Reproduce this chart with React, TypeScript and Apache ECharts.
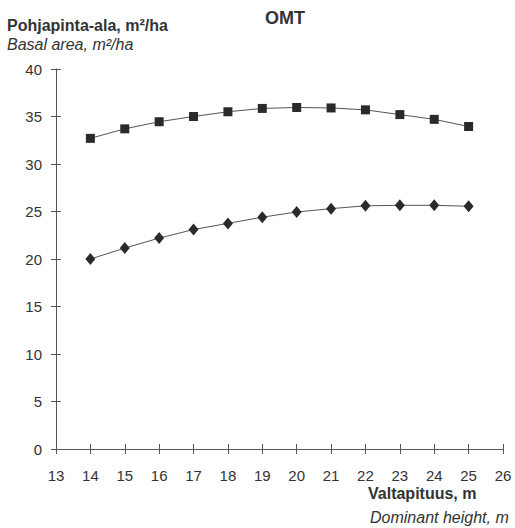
import React, { useEffect, useRef } from "react";
import * as echarts from "echarts";

const heights = [14, 15, 16, 17, 18, 19, 20, 21, 22, 23, 24, 25];
const basalUpper = [32.7, 33.7, 34.45, 35.0, 35.5, 35.85, 35.95, 35.9, 35.7, 35.2, 34.7, 33.95];
const basalLower = [20.0, 21.15, 22.2, 23.1, 23.75, 24.4, 24.95, 25.3, 25.6, 25.65, 25.65, 25.55];
const titleText = "OMT";
const yNameFi = "Pohjapinta-ala, m²/ha";
const yNameEn = "Basal area, m²/ha";
const xNameFi = "Valtapituus, m";
const xNameEn = "Dominant height, m";

const FONT = "'Liberation Sans', Arial, sans-serif";
const INK = "#333";

export default function App() {
  const ref = useRef<HTMLDivElement>(null);
  useEffect(() => {
    if (!ref.current) return;
    const chart = echarts.init(ref.current, null, { renderer: "svg" });
    const tickStyle = { color: "#555", width: 1 };
    chart.setOption({
      animation: false,
      backgroundColor: "#fff",
      textStyle: { fontFamily: FONT },
      title: {
        text: titleText,
        left: 260,
        top: 4,
        textStyle: { fontFamily: FONT, fontSize: 18, fontWeight: "bold", color: INK },
      },
      grid: { left: 56, right: 12, top: 69, bottom: 79, containLabel: false },
      xAxis: [
        {
          type: "value",
          min: 13,
          max: 26,
          interval: 1,
          axisLine: { show: true, lineStyle: tickStyle },
          axisTick: { show: true, inside: false, length: 5, lineStyle: tickStyle },
          axisLabel: { color: INK, fontSize: 15, fontFamily: FONT, margin: 19 },
          splitLine: { show: false },
        },
        {
          type: "value",
          position: "bottom",
          min: 13,
          max: 26,
          interval: 1,
          axisLine: { show: false },
          axisTick: { show: true, inside: true, length: 5, lineStyle: tickStyle },
          axisLabel: { show: false },
          splitLine: { show: false },
        },
      ],
      yAxis: [
        {
          type: "value",
          min: 0,
          max: 40,
          interval: 5,
          axisLine: { show: true, lineStyle: tickStyle },
          axisTick: { show: true, inside: false, length: 5, lineStyle: tickStyle },
          axisLabel: { color: INK, fontSize: 15, fontFamily: FONT, margin: 14 },
          splitLine: { show: false },
        },
        {
          type: "value",
          position: "left",
          min: 0,
          max: 40,
          interval: 5,
          axisLine: { show: false },
          axisTick: { show: true, inside: true, length: 5, lineStyle: tickStyle },
          axisLabel: { show: false },
          splitLine: { show: false },
        },
      ],
      graphic: [
        {
          type: "text",
          left: 7,
          top: 17,
          style: { text: yNameFi, font: `bold 16px ${FONT}`, fill: INK },
        },
        {
          type: "text",
          left: 7,
          top: 36,
          style: { text: yNameEn, font: `italic 16px ${FONT}`, fill: INK },
        },
        {
          type: "text",
          left: 368,
          top: 485,
          style: { text: xNameFi, font: `bold 16px ${FONT}`, fill: INK },
        },
        {
          type: "text",
          left: 370,
          top: 509,
          style: { text: xNameEn, font: `italic 16px ${FONT}`, fill: INK },
        },
      ],
      series: [
        {
          type: "line",
          data: heights.map((h, i) => [h, basalUpper[i]]),
          symbol: "rect",
          symbolSize: 9,
          itemStyle: { color: "#2a2a2a" },
          lineStyle: { color: "#555", width: 1 },
        },
        {
          type: "line",
          data: heights.map((h, i) => [h, basalLower[i]]),
          symbol: "diamond",
          symbolSize: [10, 12],
          itemStyle: { color: "#2a2a2a" },
          lineStyle: { color: "#555", width: 1 },
        },
      ],
    });
    return () => chart.dispose();
  }, []);
  return <div ref={ref} style={{ width: 515, height: 528, position: "absolute", left: 0, top: 0 }} />;
}
